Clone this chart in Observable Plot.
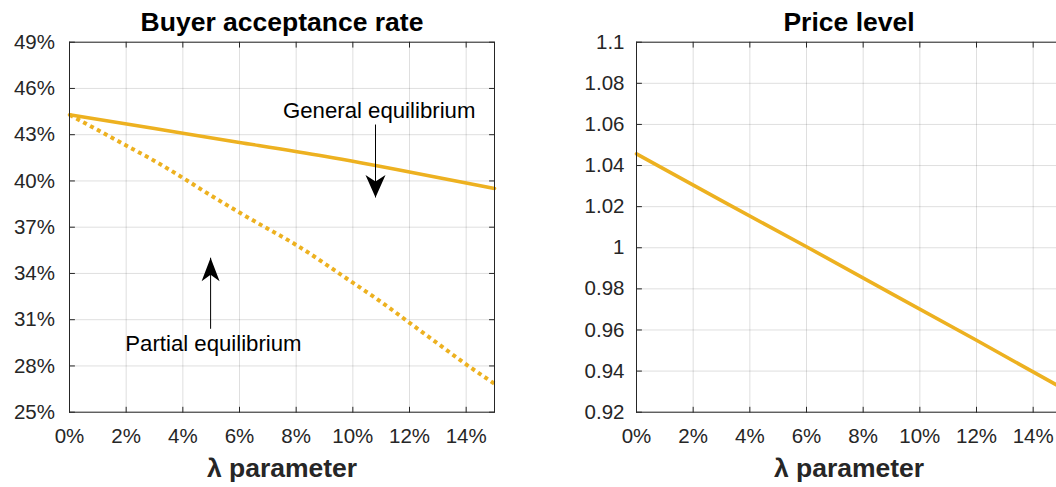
<!DOCTYPE html>
<html><head><meta charset="utf-8">
<script src="https://cdn.jsdelivr.net/npm/d3@7"></script>
<script src="https://cdn.jsdelivr.net/npm/@observablehq/plot@0.6"></script>
<style>
html,body{margin:0;padding:0;overflow:hidden;background:#fff;width:1056px;height:487px;position:relative}
.panel{position:absolute;top:0}
.panel svg{max-width:none !important}
</style></head><body>
<div id="left" class="panel" style="left:0"></div>
<div id="right" class="panel" style="left:560px"></div>
<script>
// ---- data ----
const lambdaFine = [0,0.01,0.02,0.03,0.04,0.05,0.06,0.07,0.08,0.09,0.10,0.11,0.12,0.13,0.14,0.15];
const partialRate = [0.4429,0.4330,0.4230,0.4130,0.4020,0.3905,0.3795,0.3690,0.3585,0.3465,0.3340,0.3215,0.3080,0.2945,0.2810,0.2685];
const lambdaCoarse = [0,0.03,0.06,0.09,0.12,0.15];
const generalRate = [0.4429,0.4340,0.4250,0.4160,0.4058,0.3951];
const priceLevel = [1.0457,1.0229,1.0005,0.9777,0.9550,0.9319];
const xTicks = [0,0.02,0.04,0.06,0.08,0.10,0.12,0.14];
const rateTicks = [0.25,0.28,0.31,0.34,0.37,0.40,0.43,0.46,0.49];
const priceTicks = [0.92,0.94,0.96,0.98,1.00,1.02,1.04,1.06,1.08,1.10];
const titles = ["Buyer acceptance rate", "Price level"];
const xLabel = "λ parameter";
const labels = [
  {text: "General equilibrium", x: 0.1093, y: 0.4457},
  {text: "Partial equilibrium", x: 0.0508, y: 0.2946}
];
const arrows = [
  {x: 0.108, from: 0.4366, to: 0.3893, dir: "down"},
  {x: 0.0498, from: 0.3041, to: 0.3502, dir: "up"}
];

// ---- style ----
const GOLD = "#EDB120", AX = "#262626";
const FONT = "'Liberation Sans', Arial, Helvetica, sans-serif";
const W = 425, TOP = 41.7, H = 487, BOTTOM = H - 411.7;

const tickShape = {draw(ctx, l) { ctx.moveTo(0, 0); ctx.lineTo(0, -l); }};
function boxTicks(xs, ys) {
  const o = {length: 5, shape: tickShape, anchor: "start", stroke: AX, strokeWidth: 1};
  return [
    Plot.vector(xs, {...o, x: d => d, frameAnchor: "bottom", rotate: 0}),
    Plot.vector(xs, {...o, x: d => d, frameAnchor: "top", rotate: 180}),
    Plot.vector(ys, {...o, y: d => d, frameAnchor: "left", rotate: 90}),
    Plot.vector(ys, {...o, y: d => d, frameAnchor: "right", rotate: -90})
  ];
}
const headDown = {draw(ctx) { ctx.moveTo(0,0); ctx.lineTo(-10,-22.5); ctx.lineTo(0,-16); ctx.lineTo(10,-22.5); ctx.closePath(); }};
const headUp = {draw(ctx) { ctx.moveTo(0,0); ctx.lineTo(-9,23.5); ctx.lineTo(0,17); ctx.lineTo(9,23.5); ctx.closePath(); }};
const pct = d => Math.round(d * 100) + "%";
const num = d => String(+d.toFixed(2));

function panel({ml, width, yDomain, yTicks, yFmt, yPad, title, lines, extra}) {
  return Plot.plot({
    width, height: H,
    marginLeft: ml, marginRight: width - ml - W, marginTop: TOP, marginBottom: BOTTOM,
    style: {fontFamily: FONT, fontSize: "20.5px", color: AX, background: "white", overflow: "visible"},
    x: {domain: [0, 0.15]},
    y: {domain: yDomain},
    marks: [
      Plot.gridX(xTicks, {stroke: AX, strokeOpacity: 0.15, strokeWidth: 1}),
      Plot.gridY(yTicks, {stroke: AX, strokeOpacity: 0.15, strokeWidth: 1}),
      ...lines,
      Plot.frame({stroke: AX, strokeWidth: 1}),
      ...boxTicks(xTicks, yTicks),
      Plot.axisX(xTicks, {anchor: "bottom", tickSize: 0, tickPadding: 16.5, tickFormat: pct, label: null, fill: AX}),
      Plot.axisY(yTicks, {anchor: "left", tickSize: 0, tickPadding: yPad, tickFormat: yFmt, label: null, fill: AX}),
      Plot.text([title], {frameAnchor: "top", lineAnchor: "middle", dy: -19.5, fontSize: 26.5, fontWeight: "bold", fill: "black"}),
      Plot.text([xLabel], {frameAnchor: "bottom", lineAnchor: "middle", dy: 56.5, fontSize: 26.5, fontWeight: "bold", fill: AX}),
      ...(extra || [])
    ]
  });
}

const left = panel({
  ml: 69, width: 560, yDomain: [0.25, 0.49], yTicks: rateTicks, yFmt: pct, yPad: 14.5, title: titles[0],
  lines: [
    Plot.line(lambdaCoarse.map((l, i) => ({l, v: generalRate[i]})), {x: "l", y: "v", curve: "natural", stroke: GOLD, strokeWidth: 3.6}),
    Plot.line(lambdaFine.map((l, i) => ({l, v: partialRate[i]})), {x: "l", y: "v", curve: "natural", stroke: GOLD, strokeWidth: 4, strokeDasharray: "4 3.8", strokeLinecap: "butt"})
  ],
  extra: [
    Plot.link(arrows, {x1: "x", x2: "x", y1: "from", y2: "to", stroke: "black", strokeWidth: 1}),
    Plot.dot(arrows.filter(a => a.dir === "down"), {x: "x", y: "to", symbol: headDown, fill: "black", stroke: "none"}),
    Plot.dot(arrows.filter(a => a.dir === "up"), {x: "x", y: "to", symbol: headUp, fill: "black", stroke: "none"}),
    Plot.text(labels, {x: "x", y: "y", text: "text", fontSize: 22.2, fill: "black"})
  ]
});
document.getElementById("left").append(left);

const right = panel({
  ml: 76, width: 531, yDomain: [0.92, 1.10], yTicks: priceTicks, yFmt: num, yPad: 12, title: titles[1],
  lines: [
    Plot.line(lambdaCoarse.map((l, i) => ({l, v: priceLevel[i]})), {x: "l", y: "v", stroke: GOLD, strokeWidth: 3.6})
  ]
});
document.getElementById("right").append(right);
</script>
</body></html>
